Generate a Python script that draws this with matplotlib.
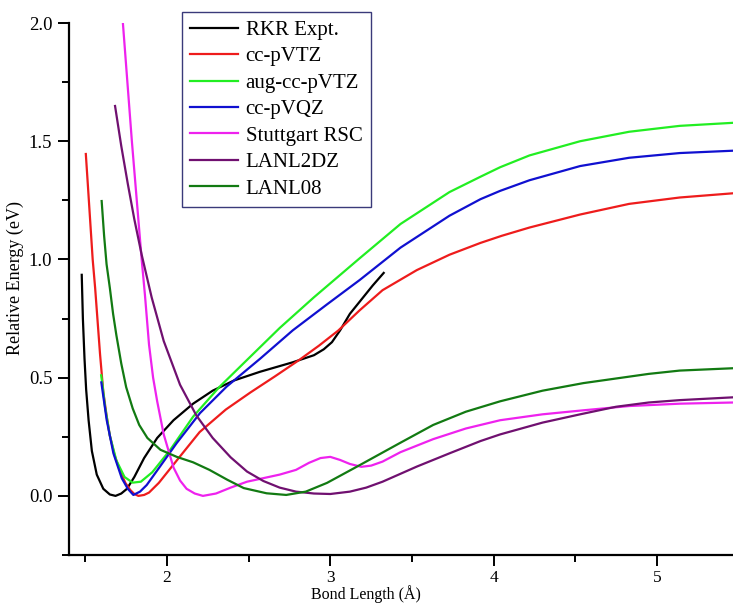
import matplotlib
matplotlib.use("Agg")
import matplotlib.pyplot as plt
from matplotlib.ticker import MultipleLocator

plt.rcParams['font.family'] = ['Liberation Serif', 'DejaVu Serif']

# potential energy curves, bond length (A) vs relative energy (eV)
rkr_x = [1.478, 1.485, 1.495, 1.505, 1.52, 1.54, 1.57, 1.61, 1.65, 1.685, 1.72, 1.755, 1.80, 1.86,
         1.94, 2.04, 2.16, 2.28, 2.41, 2.57, 2.77, 2.90, 2.96, 3.01, 3.06, 3.12, 3.19, 3.26, 3.327]
rkr_y = [0.935, 0.75, 0.58, 0.45, 0.32, 0.19, 0.09, 0.03, 0.006, 0.0, 0.01, 0.03, 0.08, 0.16,
         0.245, 0.32, 0.39, 0.445, 0.488, 0.525, 0.565, 0.595, 0.62, 0.65, 0.70, 0.77, 0.83, 0.89, 0.943]

vtz_x = [1.503, 1.515, 1.53, 1.545, 1.56, 1.575, 1.59, 1.61, 1.63, 1.65, 1.68, 1.71, 1.745, 1.775,
         1.80, 1.825, 1.86, 1.89, 1.95, 2.06, 2.20, 2.36, 2.51, 2.66, 2.81, 2.93, 3.05, 3.18, 3.32,
         3.53, 3.73, 3.92, 4.05, 4.22, 4.53, 4.83, 5.14, 5.47]
vtz_y = [1.446, 1.32, 1.16, 1.00, 0.88, 0.74, 0.60, 0.44, 0.34, 0.255, 0.17, 0.11, 0.055, 0.025,
         0.008, 0.0, 0.004, 0.014, 0.055, 0.15, 0.27, 0.365, 0.437, 0.505, 0.575, 0.635, 0.70, 0.785, 0.87,
         0.955, 1.02, 1.07, 1.10, 1.135, 1.19, 1.235, 1.262, 1.28]

aug_x = [1.597, 1.605, 1.62, 1.65, 1.69, 1.74, 1.79, 1.84, 1.91, 2.02, 2.16, 2.32, 2.49, 2.69,
         2.90, 3.18, 3.43, 3.73, 3.92, 4.04, 4.22, 4.53, 4.83, 5.14, 5.47]
aug_y = [0.51, 0.47, 0.38, 0.255, 0.15, 0.08, 0.056, 0.06, 0.10, 0.195, 0.335, 0.46, 0.575, 0.71,
         0.84, 1.005, 1.15, 1.285, 1.35, 1.39, 1.44, 1.50, 1.54, 1.565, 1.578]

vqz_x = [1.598, 1.631, 1.672, 1.723, 1.76, 1.794, 1.835, 1.876, 1.957, 2.059, 2.202, 2.365, 2.57,
         2.77, 2.98, 3.18, 3.43, 3.73, 3.92, 4.04, 4.22, 4.53, 4.83, 5.14, 5.47]
vqz_y = [0.48, 0.32, 0.18, 0.075, 0.03, 0.004, 0.018, 0.046, 0.124, 0.223, 0.35, 0.462, 0.58,
         0.70, 0.81, 0.913, 1.05, 1.185, 1.255, 1.29, 1.335, 1.395, 1.43, 1.45, 1.46]

rsc_x = [1.73, 1.785, 1.845, 1.865, 1.89, 1.915, 1.94, 1.98, 2.04, 2.08, 2.12, 2.17, 2.22, 2.30,
         2.39, 2.49, 2.59, 2.69, 2.79, 2.87, 2.94, 3.0, 3.06, 3.12, 3.19, 3.25, 3.32, 3.43, 3.63,
         3.83, 4.04, 4.3, 4.55, 4.83, 5.14, 5.47]
rsc_y = [2.0, 1.5, 1.0, 0.85, 0.64, 0.50, 0.40, 0.26, 0.12, 0.065, 0.03, 0.01, 0.0, 0.01,
         0.035, 0.06, 0.075, 0.09, 0.11, 0.14, 0.16, 0.165, 0.152, 0.135, 0.123, 0.128, 0.145, 0.185, 0.24,
         0.285, 0.32, 0.345, 0.362, 0.38, 0.39, 0.395]

lanl2dz_x = [1.682, 1.72, 1.76, 1.80, 1.845, 1.906, 1.98, 2.08, 2.18, 2.28, 2.39, 2.49, 2.59, 2.69,
             2.79, 2.90, 3.0, 3.12, 3.22, 3.32, 3.53, 3.73, 3.92, 4.04, 4.30, 4.53, 4.75, 4.95, 5.14, 5.47]
lanl2dz_y = [1.649, 1.48, 1.32, 1.17, 1.02, 0.84, 0.655, 0.47, 0.34, 0.245, 0.163, 0.103, 0.063, 0.035,
             0.018, 0.01, 0.008, 0.018, 0.035, 0.06, 0.124, 0.18, 0.232, 0.26, 0.31, 0.345, 0.377, 0.395, 0.405, 0.417]

lanl08_x = [1.60, 1.615, 1.63, 1.65, 1.67, 1.69, 1.72, 1.75, 1.79, 1.83, 1.88, 1.96, 2.06, 2.16,
            2.26, 2.37, 2.47, 2.61, 2.73, 2.85, 2.98, 3.18, 3.43, 3.63, 3.83, 4.04, 4.3, 4.55,
            4.95, 5.14, 5.47]
lanl08_y = [1.247, 1.10, 0.98, 0.88, 0.77, 0.68, 0.56, 0.46, 0.37, 0.30, 0.245, 0.195, 0.165, 0.142,
            0.11, 0.068, 0.033, 0.011, 0.004, 0.018, 0.055, 0.13, 0.225, 0.30, 0.356, 0.40, 0.445, 0.477,
            0.516, 0.53, 0.54]

labels = ["RKR Expt.", "cc-pVTZ", "aug-cc-pVTZ", "cc-pVQZ", "Stuttgart RSC", "LANL2DZ", "LANL08"]
colors = ["#000000", "#ee1c1c", "#22ee22", "#1010d0", "#ee22ee", "#701070", "#127a12"]
curves = [(rkr_x, rkr_y), (vtz_x, vtz_y), (aug_x, aug_y), (vqz_x, vqz_y),
          (rsc_x, rsc_y), (lanl2dz_x, lanl2dz_y), (lanl08_x, lanl08_y)]

fig = plt.figure(figsize=(7.33, 6.04), dpi=100)
ax = fig.add_axes([69/733, 1-555/604, 664/733, 532/604])

for (xs, ys), lab, col in zip(curves, labels, colors):
    ax.plot(xs, ys, color=col, lw=1.6, label=lab)

ax.set_xlim(1.4, 5.466)
ax.set_ylim(-0.25, 2.0)
ax.xaxis.set_major_locator(MultipleLocator(1))
ax.xaxis.set_minor_locator(MultipleLocator(0.5))
ax.yaxis.set_major_locator(MultipleLocator(0.5))
ax.yaxis.set_minor_locator(MultipleLocator(0.25))
ax.yaxis.set_major_formatter(plt.FormatStrFormatter('%.1f'))

for s in ["top", "right"]:
    ax.spines[s].set_visible(False)
for s in ["left", "bottom"]:
    ax.spines[s].set_linewidth(1.6)
ax.tick_params(which="major", length=8, width=1.4, labelsize=13.5)
ax.tick_params(axis="x", which="major", labelsize=12.5, pad=2.5)
ax.tick_params(axis="y", which="major", pad=4)
ax.tick_params(which="minor", length=5, width=1.4)

ax.set_xlabel("Bond Length (Å)", fontsize=11.5, va="bottom")
ax.xaxis.set_label_coords(0.447, -(604 - 555 - 1) / 532)
ax.set_ylabel("Relative Energy (eV)", fontsize=13)
ax.yaxis.set_label_coords(-0.068, 0.52)

leg = ax.legend(loc="upper left", bbox_to_anchor=(182/733, 1-12/604),
                bbox_transform=fig.transFigure, borderaxespad=0, fontsize=15,
                frameon=True, fancybox=False, framealpha=1, edgecolor="#3a3a7a",
                handlelength=2.3, handletextpad=0.35, labelspacing=0.33, borderpad=0.4)
leg.get_frame().set_linewidth(1.0)

fig.savefig("out.png", dpi=100)
